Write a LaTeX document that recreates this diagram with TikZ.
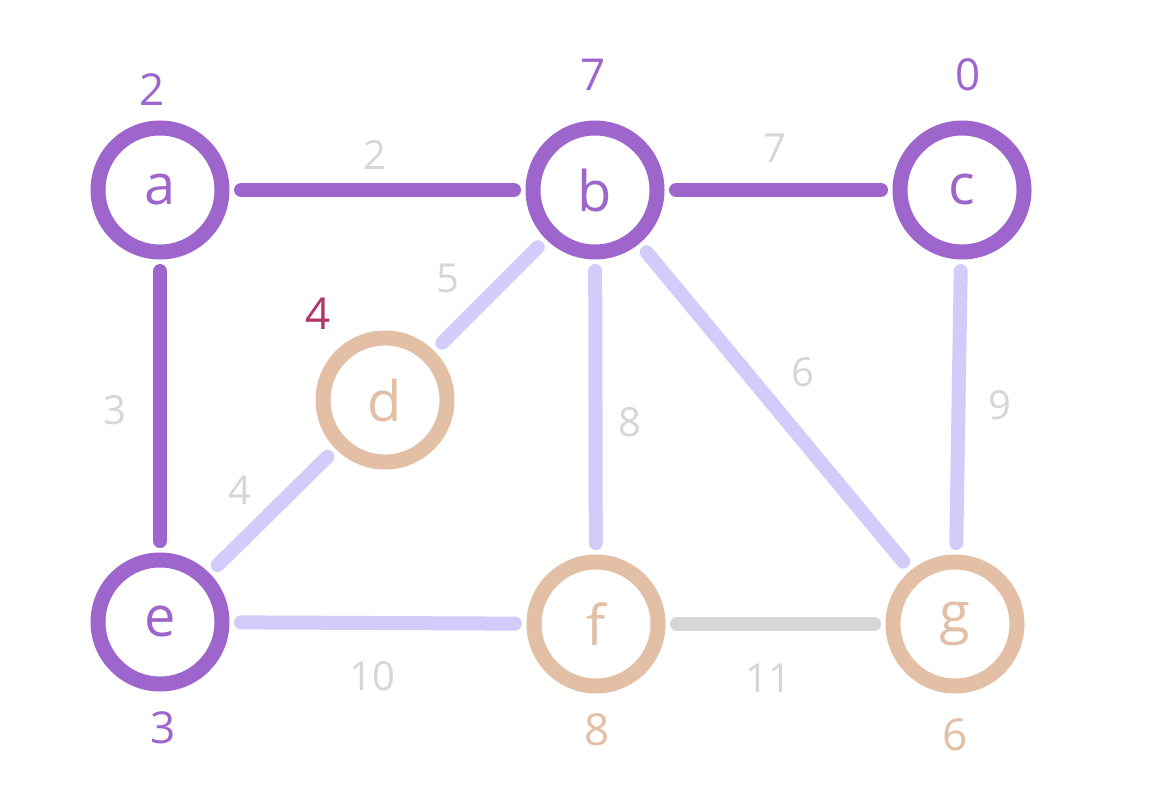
\documentclass[tikz,border=0pt]{standalone}
\usepackage{fontspec}
\setmainfont{Open Sans}
\definecolor{vpurple}{HTML}{9E66CC}
\definecolor{vtan}{HTML}{E3C0A5}
\definecolor{vlav}{HTML}{D3CCFB}
\definecolor{vgray}{HTML}{D6D6D6}
\definecolor{vred}{HTML}{B0356A}
\tikzset{
  vert/.style={circle, draw=#1, line width=15pt, minimum size=124pt, inner sep=0pt, outer sep=19pt, text=#1, font=\fontsize{56}{60}\selectfont},
  edgeln/.style={draw=#1, line width=14pt, line cap=round},
  wlabel/.style={text=vgray, font=\fontsize{40}{44}\selectfont, inner sep=0pt},
  tag/.style={text=#1, font=\fontsize{44}{48}\selectfont, inner sep=0pt}
}
\begin{document}
\begin{tikzpicture}[x=1pt,y=-1pt]
\useasboundingbox (0,0) rectangle (1150,800);
\fill[white] (0,0) rectangle (1150,800);
% vertices
\node[vert=vpurple] (a) at (160,190) {a};
\node[vert=vpurple] (b) at (595,190) {b};
\node[vert=vpurple] (c) at (962,190) {c};
\node[vert=vtan] (d) at (385,400) {d};
\node[vert=vpurple] (e) at (160,622) {e};
\node[vert=vtan] (f) at (596,624) {f};
\node[vert=vtan] (g) at (955,624) {g};
% edges
\draw[edgeln=vpurple] (a) -- (b);
\draw[edgeln=vpurple] (b) -- (c);
\draw[edgeln=vpurple] (a) -- (e);
\draw[edgeln=vlav] (b) -- (d);
\draw[edgeln=vlav] (e) -- (d);
\draw[edgeln=vlav] (b) -- (f);
\draw[edgeln=vlav] (b) -- (g);
\draw[edgeln=vlav] (c) -- (g);
\draw[edgeln=vlav] (e) -- (f);
\draw[edgeln=vgray] (f) -- (g);
% weights
\node[wlabel] (wab) at (375,155) {2};
\node[wlabel] (wbc) at (775,148) {7};
\node[wlabel] (wae) at (115,410) {3};
\node[wlabel] (wbd) at (448,278) {5};
\node[wlabel] (wed) at (240,490) {4};
\node[wlabel] (wbf) at (630,422) {8};
\node[wlabel] (wbg) at (803,372) {6};
\node[wlabel] (wcg) at (1000,405) {9};
\node[wlabel] (wef) at (372,676) {10};
\node[wlabel] (wfg) at (768,678) {11};
% distance tags
\node[tag=vpurple] (ta) at (152,90) {2};
\node[tag=vpurple] (tb) at (593,75) {7};
\node[tag=vpurple] (tc) at (968,75) {0};
\node[tag=vred] (td) at (318,314) {4};
\node[tag=vpurple] (te) at (163,728) {3};
\node[tag=vtan] (tf) at (597,730) {8};
\node[tag=vtan] (tg) at (955,735) {6};
\end{tikzpicture}
\end{document}
